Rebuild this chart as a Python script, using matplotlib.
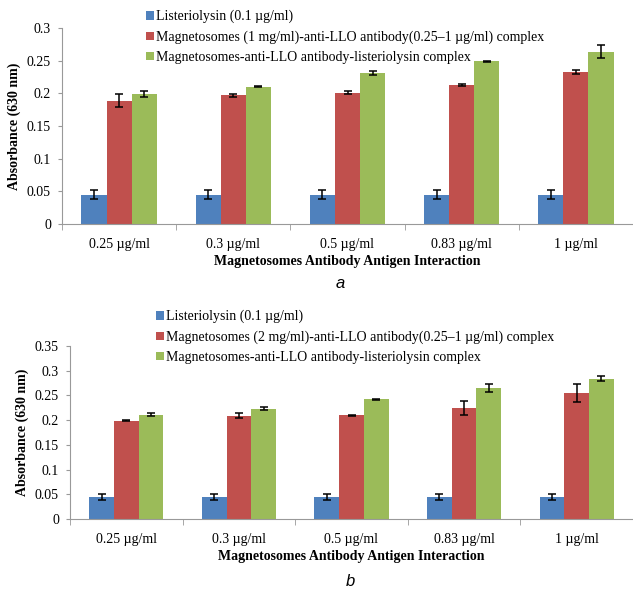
import numpy as np
import matplotlib.pyplot as plt

# Antibody concentrations on the x axis
concentrations = ['0.25 µg/ml', '0.3 µg/ml', '0.5 µg/ml', '0.83 µg/ml', '1 µg/ml']

# Panel a: 1 mg/ml magnetosomes
llo_a = [0.045, 0.045, 0.045, 0.045, 0.045]
llo_a_err = [0.007, 0.007, 0.007, 0.007, 0.007]
ab_a = [0.189, 0.197, 0.201, 0.213, 0.232]
ab_a_err = [0.010, 0.002, 0.002, 0.002, 0.003]
cplx_a = [0.199, 0.210, 0.231, 0.249, 0.264]
cplx_a_err = [0.005, 0.001, 0.003, 0.001, 0.010]

# Panel b: 2 mg/ml magnetosomes
llo_b = [0.045, 0.045, 0.045, 0.045, 0.045]
llo_b_err = [0.006, 0.006, 0.006, 0.006, 0.006]
ab_b = [0.199, 0.209, 0.210, 0.224, 0.255]
ab_b_err = [0.001, 0.005, 0.001, 0.014, 0.019]
cplx_b = [0.211, 0.223, 0.242, 0.265, 0.284]
cplx_b_err = [0.003, 0.003, 0.001, 0.009, 0.005]

labels_a = ['Listeriolysin (0.1 µg/ml)',
            'Magnetosomes (1 mg/ml)-anti-LLO antibody(0.25\u20131 µg/ml) complex',
            'Magnetosomes-anti-LLO antibody-listeriolysin complex']
labels_b = ['Listeriolysin (0.1 µg/ml)',
            'Magnetosomes (2 mg/ml)-anti-LLO antibody(0.25\u20131 µg/ml) complex',
            'Magnetosomes-anti-LLO antibody-listeriolysin complex']

colors = ['#4F81BD', '#C0504D', '#9BBB59']
serif = 'Liberation Serif'

W, H = 633, 591
fig = plt.figure(figsize=(W / 100, H / 100), dpi=100)


def panel(rect, series, errs, labels, ymax, legend_xy, letter_xy, letter):
    ax = fig.add_axes(rect)
    x = np.arange(len(concentrations))
    w = 0.22
    handles = []
    for i, (vals, err) in enumerate(zip(series, errs)):
        b = ax.bar(x + (i - 1) * w, vals, w, color=colors[i], yerr=err,
                   error_kw=dict(ecolor='black', elinewidth=1.1, capsize=3, capthick=1.1),
                   label=labels[i])
        handles.append(b)
    ax.set_xlim(-0.5, len(concentrations) - 0.5)
    ax.set_ylim(0, ymax)
    ticks = np.arange(0, ymax + 0.001, 0.05)
    ax.set_yticks(ticks)
    ax.set_yticklabels(['0' if v == 0 else f'{v:g}' for v in ticks])
    ax.set_xticks(x)
    ax.set_xticklabels(concentrations)
    ax.set_xticks(np.arange(-0.5, len(concentrations), 1), minor=True)
    ax.tick_params(axis='x', which='major', length=0, pad=10)
    ax.tick_params(axis='x', which='minor', length=4, color='#999999')
    ax.tick_params(axis='y', length=3, color='#999999', pad=5)
    for t in ax.get_xticklabels() + ax.get_yticklabels():
        t.set_fontfamily(serif)
        t.set_fontsize(10)
    for s in ['top', 'right']:
        ax.spines[s].set_visible(False)
    for s in ['left', 'bottom']:
        ax.spines[s].set_color('#999999')
    ax.set_ylabel('Absorbance (630 nm)', fontfamily=serif, fontweight='bold', fontsize=10, labelpad=4)
    ax.set_xlabel('Magnetosomes Antibody Antigen Interaction', fontfamily=serif,
                  fontweight='bold', fontsize=10, labelpad=3)
    fig.legend(handles=handles, loc='upper left', bbox_to_anchor=legend_xy,
               frameon=False, prop=dict(family=serif, size=10), handlelength=0.55,
               handleheight=0.55, handletextpad=0.15, labelspacing=0.5, borderpad=0)
    fig.text(letter_xy[0], letter_xy[1], letter, fontfamily='Liberation Sans',
             style='italic', fontsize=12, ha='center', va='center')
    return ax


panel([62 / W, 1 - 224 / H, 571 / W, 196 / H], [llo_a, ab_a, cplx_a],
      [llo_a_err, ab_a_err, cplx_a_err], labels_a, 0.3,
      (139 / W, 1 - 3 / H), (340 / W, 1 - 284 / H), 'a')
panel([70 / W, 1 - 519 / H, 563 / W, 173 / H], [llo_b, ab_b, cplx_b],
      [llo_b_err, ab_b_err, cplx_b_err], labels_b, 0.35,
      (149 / W, 1 - 303 / H), (350 / W, 1 - 581 / H), 'b')

fig.savefig('out.png', dpi=100, facecolor='white')
